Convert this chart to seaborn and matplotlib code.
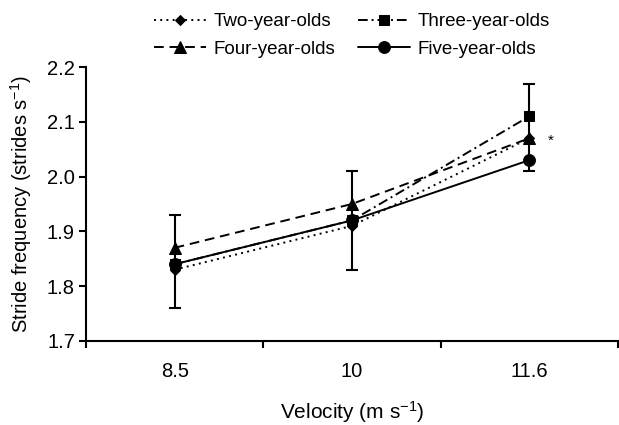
import matplotlib
matplotlib.use("Agg")
import matplotlib.pyplot as plt
import matplotlib.ticker as mticker
import pandas as pd
import seaborn as sns

# ── Data ───────────────────────────────────────────────────────────────────────
velocity = ["8.5", "10", "11.6"]
two_year = [1.83, 1.91, 2.07]
three_year = [1.84, 1.92, 2.11]
four_year = [1.87, 1.95, 2.07]
five_year = [1.84, 1.92, 2.03]
err_top = [1.93, 2.01, 2.17]
err_bottom = [1.76, 1.83, 2.01]
groups = ["Two-year-olds", "Three-year-olds", "Four-year-olds", "Five-year-olds"]

rows = []
for name, vals in zip(groups, [two_year, three_year, four_year, five_year]):
    for i, v in enumerate(vals):
        rows.append({"pos": i, "freq": v, "group": name})
df = pd.DataFrame(rows)

sns.set_theme(style="ticks", rc={"text.color": "black", "axes.labelcolor": "black",
                                 "xtick.color": "black", "ytick.color": "black",
                                 "axes.edgecolor": "black"})
plt.rcParams["font.family"] = ["Liberation Sans", "DejaVu Sans"]
plt.rcParams["mathtext.fontset"] = "custom"
plt.rcParams["mathtext.rm"] = "Liberation Sans"
plt.rcParams["mathtext.it"] = "Liberation Sans"

FS = 14.5

fig = plt.figure(figsize=(6.19, 4.25), dpi=100)
ax = fig.add_axes([0.139, 0.198, 0.859, 0.644])

# error bars first so lines sit on top
centers = [(t + b) / 2 for t, b in zip(err_top, err_bottom)]
half = [(t - b) / 2 for t, b in zip(err_top, err_bottom)]
ax.errorbar(range(len(velocity)), centers, yerr=half, fmt="none",
            ecolor="black", elinewidth=1.5, capsize=4.5, capthick=1.5, zorder=1)

sns.lineplot(data=df, x="pos", y="freq", hue="group", style="group",
             hue_order=groups, style_order=groups,
             palette=["black"] * 4,
             markers={"Two-year-olds": "D", "Three-year-olds": "s",
                      "Four-year-olds": "^", "Five-year-olds": "o"},
             dashes={"Two-year-olds": (1, 2.2), "Three-year-olds": (5, 2, 1, 2),
                     "Four-year-olds": (5, 3), "Five-year-olds": ""},
             markersize=8, markeredgecolor="black", linewidth=1.4,
             ax=ax, zorder=2)

sizes = {"D": 5.5, "s": 7.5, "^": 8, "o": 8.5}
for ln in ax.lines:
    m = ln.get_marker()
    if m in sizes:
        ln.set_markersize(sizes[m])

ax.text(2.12, 2.065, "*", fontsize=11, ha="center", va="center")

ax.set_xlim(-0.5, 2.5)
ax.set_ylim(1.7, 2.2)
ax.xaxis.set_major_locator(mticker.FixedLocator([-0.5, 0.5, 1.5, 2.5]))
ax.xaxis.set_major_formatter(mticker.NullFormatter())
ax.xaxis.set_minor_locator(mticker.FixedLocator(range(len(velocity))))
ax.xaxis.set_minor_formatter(mticker.FixedFormatter(velocity))
ax.tick_params(axis="x", which="minor", length=0, labelsize=FS, pad=15)
ax.tick_params(axis="x", which="major", length=5, width=1.5, color="black")
ax.yaxis.set_major_locator(mticker.MultipleLocator(0.1))
ax.yaxis.set_major_formatter(mticker.FormatStrFormatter("%.1f"))
ax.tick_params(axis="y", length=5, width=1.5, labelsize=FS, color="black", pad=3)

for side in ["left", "bottom"]:
    ax.spines[side].set_linewidth(1.5)
    ax.spines[side].set_color("black")
sns.despine(ax=ax)

ax.set_xlabel("Velocity (m s$^{-1}$)", fontsize=15, labelpad=13)
ax.set_ylabel("Stride frequency (strides s$^{-1}$)", fontsize=FS, labelpad=9)

handles, labels = ax.get_legend_handles_labels()
lookup = dict(zip(labels, handles))
order = ["Two-year-olds", "Four-year-olds", "Three-year-olds", "Five-year-olds"]
ax.legend([lookup[k] for k in order], order, ncol=2, frameon=False,
          loc="lower center", bbox_to_anchor=(0.5, 1.0), fontsize=13.5,
          handlelength=2.8, handletextpad=0.4, columnspacing=1.2,
          labelspacing=0.55, borderaxespad=0.1)

fig.savefig("out.png", dpi=100)
